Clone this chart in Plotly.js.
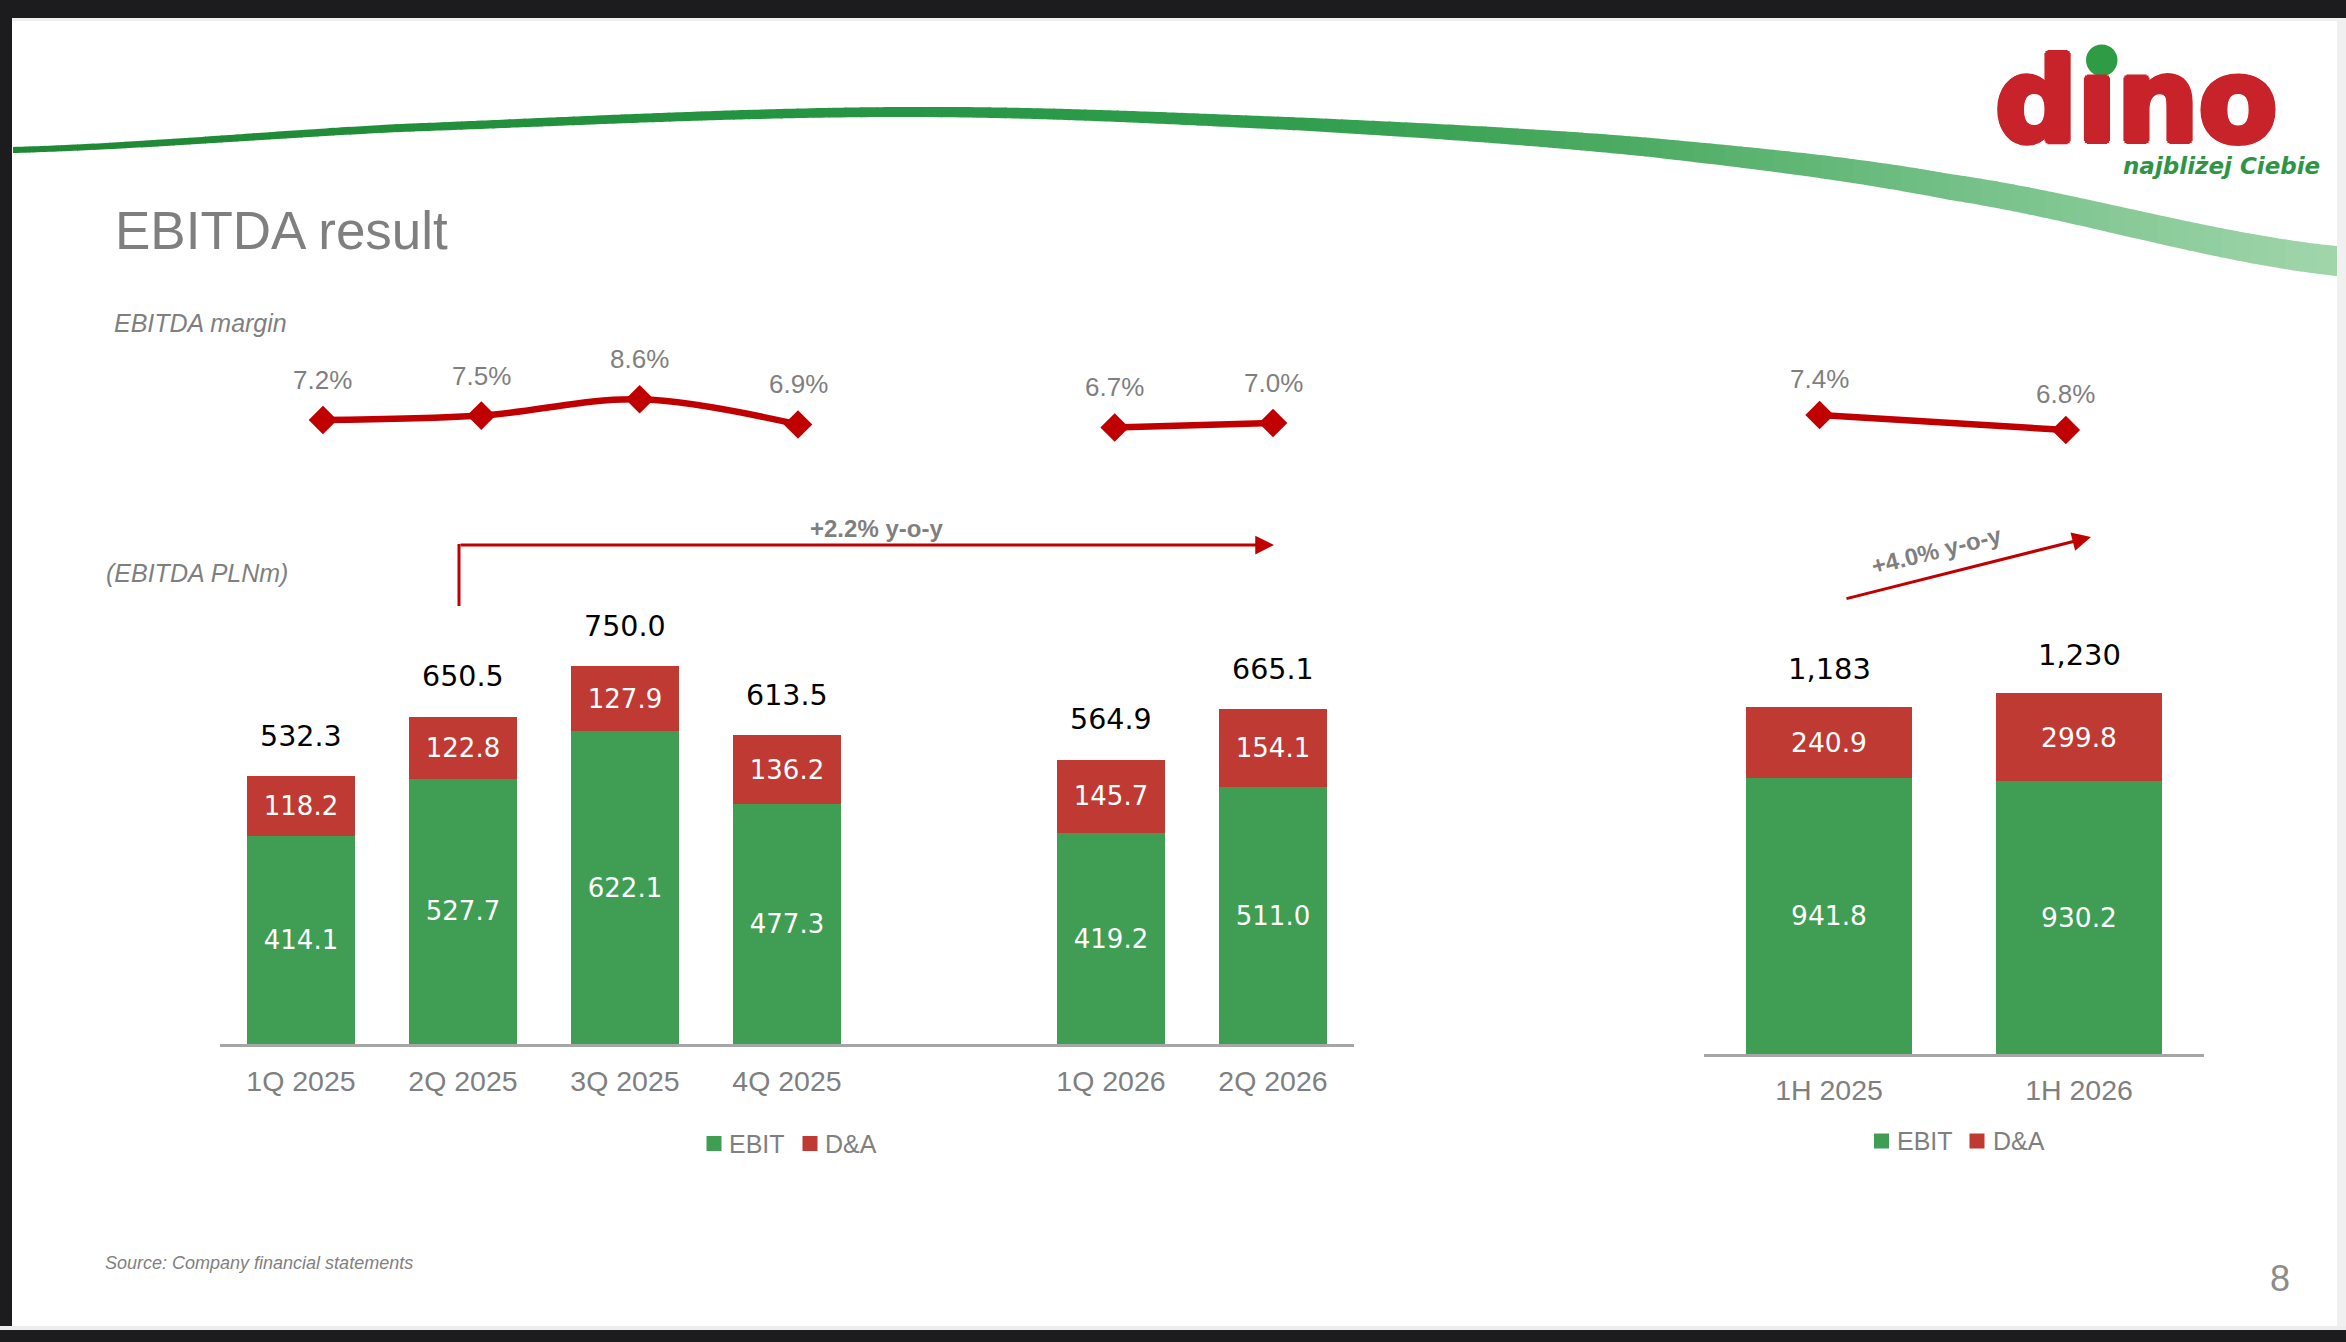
<!DOCTYPE html>
<html><head><meta charset="utf-8">
<script src="https://cdn.plot.ly/plotly-3.0.1.min.js"></script>
<style>html,body{margin:0;padding:0;background:#fff;overflow:hidden}</style>
</head><body><div id="chart" style="width:2346px;height:1342px"></div>
<script>
// ---------------- data ----------------
const quarterLabels = ['1Q 2025','2Q 2025','3Q 2025','4Q 2025','1Q 2026','2Q 2026'];
const quarterEbit = [414.1, 527.7, 622.1, 477.3, 419.2, 511.0];
const quarterDA = [118.2, 122.8, 127.9, 136.2, 145.7, 154.1];
const quarterEbitda = [532.3, 650.5, 750.0, 613.5, 564.9, 665.1];
const quarterMargin = [7.2, 7.5, 8.6, 6.9, 6.7, 7.0];
const halfLabels = ['1H 2025','1H 2026'];
const halfEbit = [941.8, 930.2];
const halfDA = [240.9, 299.8];
const halfEbitda = [1183, 1230];
const halfMargin = [7.4, 6.8];
const seriesNames = ['EBIT','D&A'];
const yoyLabels = ['+2.2% y-o-y','+4.0% y-o-y'];
const titleText = 'EBITDA result';
const marginTitle = 'EBITDA margin';
const unitTitle = '(EBITDA PLNm)';
const sourceText = 'Source: Company financial statements';
const pageNumber = '8';
const logoText = 'd\u0131no';
const logoTagline = 'najbliżej Ciebie';

// ---------------- helpers ----------------
const W = 2346, H = 1342;
const px = x => x / W;
const py = y => 1 - y / H;
const GAP = ' ';
const gapIdx = 4;
const withGap = (arr, filler) => [...arr.slice(0, gapIdx), filler, ...arr.slice(gapIdx)];
const qX = withGap(quarterLabels, GAP);
const esc = s => s.replace(/&/g, '&amp;');

const GREEN = '#409D54', RED = '#BE3A33', LINE_RED = '#C00000', GREY = '#7F7F7F';
const SANS = 'Liberation Sans, Arial, sans-serif';
const VAL = 'DejaVu Sans, sans-serif';

// ---------------- traces ----------------
const barCommon = {type: 'bar', textposition: 'inside', insidetextanchor: 'middle', textangle: 0,
  constraintext: 'none', cliponaxis: false, hoverinfo: 'skip', marker: {line: {width: 0}}};
const traces = [
  Object.assign({}, barCommon, {name: seriesNames[0], x: qX, y: withGap(quarterEbit, null), xaxis: 'x', yaxis: 'y',
    marker: {color: GREEN, line: {width: 0}}, texttemplate: '%{y:.1f}', textfont: {family: VAL, size: 26, color: '#fff'}}),
  Object.assign({}, barCommon, {name: seriesNames[1], x: qX, y: withGap(quarterDA, null), xaxis: 'x', yaxis: 'y',
    marker: {color: RED, line: {width: 0}}, texttemplate: '%{y:.1f}', textfont: {family: VAL, size: 26, color: '#fff'}}),
  Object.assign({}, barCommon, {name: seriesNames[0], x: halfLabels, y: halfEbit, xaxis: 'x2', yaxis: 'y2',
    marker: {color: GREEN, line: {width: 0}}, texttemplate: '%{y:.1f}', textfont: {family: VAL, size: 26.5, color: '#fff'}}),
  Object.assign({}, barCommon, {name: seriesNames[1], x: halfLabels, y: halfDA, xaxis: 'x2', yaxis: 'y2',
    marker: {color: RED, line: {width: 0}}, texttemplate: '%{y:.1f}', textfont: {family: VAL, size: 26.5, color: '#fff'}}),
  {type: 'scatter', mode: 'lines+markers', x: qX, y: withGap(quarterMargin, null), xaxis: 'x3', yaxis: 'y3',
    connectgaps: false, line: {color: LINE_RED, width: 6.5, shape: 'spline', smoothing: 1},
    marker: {symbol: 'diamond', size: 22, color: LINE_RED}, hoverinfo: 'skip', cliponaxis: false},
  {type: 'scatter', mode: 'lines+markers', x: halfLabels, y: halfMargin, xaxis: 'x4', yaxis: 'y4',
    line: {color: LINE_RED, width: 6.5}, marker: {symbol: 'diamond', size: 22, color: LINE_RED},
    hoverinfo: 'skip', cliponaxis: false}
];

// ---------------- annotations ----------------
const ann = [];
const addText = (text, x, y, size, opts) => ann.push(Object.assign({
  text, x: px(x), y: py(y), xref: 'paper', yref: 'paper', showarrow: false,
  xanchor: 'left', yanchor: 'middle', font: {family: SANS, size, color: GREY}}, opts || {}));

addText(titleText, 113, 231, 53);
addText(marginTitle, 112, 323, 25, {font: {family: SANS, size: 25, color: GREY, style: 'italic'}});
addText(unitTitle, 104, 573, 25, {font: {family: SANS, size: 25, color: GREY, style: 'italic'}});
addText(sourceText, 103, 1263, 18, {font: {family: SANS, size: 18, color: GREY, style: 'italic'}});
addText(pageNumber, 2280, 1278, 36, {xanchor: 'center', font: {family: SANS, size: 36, color: '#8C8C8C'}});

// totals above bars
quarterLabels.forEach((c, i) => ann.push({text: quarterEbitda[i].toFixed(1), x: c, y: quarterEbitda[i],
  xref: 'x', yref: 'y', showarrow: false, yanchor: 'middle', yshift: 40,
  font: {family: VAL, size: 28.5, color: '#000'}}));
halfLabels.forEach((c, i) => ann.push({text: halfEbitda[i].toLocaleString('en-US'), x: c, y: halfEbitda[i],
  xref: 'x2', yref: 'y2', showarrow: false, yanchor: 'middle', yshift: 38,
  font: {family: VAL, size: 29, color: '#000'}}));

// margin labels
quarterLabels.forEach((c, i) => ann.push({text: quarterMargin[i].toFixed(1) + '%', x: c, y: quarterMargin[i],
  xref: 'x3', yref: 'y3', showarrow: false, yanchor: 'middle', yshift: 40,
  font: {family: SANS, size: 26, color: GREY}}));
halfLabels.forEach((c, i) => ann.push({text: halfMargin[i].toFixed(1) + '%', x: c, y: halfMargin[i],
  xref: 'x4', yref: 'y4', showarrow: false, yanchor: 'middle', yshift: 36,
  font: {family: SANS, size: 26, color: GREY}}));

// y-o-y arrows
ann.push({x: px(1274), y: py(545), xref: 'paper', yref: 'paper', ax: -815, ay: 0, axref: 'pixel', ayref: 'pixel',
  showarrow: true, arrowhead: 2, arrowsize: 1.25, arrowwidth: 3, arrowcolor: LINE_RED, text: ''});
ann.push({x: px(2091), y: py(537), xref: 'paper', yref: 'paper', ax: -246, ay: 62, axref: 'pixel', ayref: 'pixel',
  showarrow: true, arrowhead: 2, arrowsize: 1.25, arrowwidth: 3, arrowcolor: LINE_RED, text: ''});
addText(yoyLabels[0], 877, 528, 24, {xanchor: 'center', font: {family: SANS, size: 24, color: GREY, weight: 'bold'}});
addText(yoyLabels[1], 1936, 551, 24, {xanchor: 'center', textangle: -14, font: {family: SANS, size: 24, color: GREY, weight: 'bold'}});

// legends (text)
addText(esc(seriesNames[0]), 727, 1143.5, 25);
addText(esc(seriesNames[1]), 823, 1143.5, 25);
addText(esc(seriesNames[0]), 1895, 1141, 25);
addText(esc(seriesNames[1]), 1991, 1141, 25);

// logo
const RED_LOGO = '#C8232B';
const sh = [];
[[3,0],[-3,0],[0,3],[0,-3],[2,2],[-2,-2],[2,-2],[-2,2]].forEach(d => sh.push(d[0] + 'px ' + d[1] + 'px 0 ' + RED_LOGO));
ann.push({text: logoText, x: px(2136), y: py(101), xref: 'paper', yref: 'paper', showarrow: false,
  xanchor: 'center', yanchor: 'middle',
  font: {family: 'DejaVu Sans, sans-serif', size: 115, color: RED_LOGO, weight: 'bold', shadow: sh.join(', ')}});
addText(logoTagline, 2121, 166, 23, {font: {family: 'DejaVu Sans, sans-serif', size: 23, color: '#2E9446', weight: 'bold', style: 'italic'}});

// ---------------- shapes ----------------
const shapes = [];
const rect = (x0, y0, x1, y1, color) => shapes.push({type: 'rect', xref: 'paper', yref: 'paper',
  x0: px(x0), x1: px(x1), y0: py(y1), y1: py(y0), fillcolor: color, line: {width: 0}, layer: 'above'});
// frame
rect(0, 0, W, 18, '#1C1C1E');
rect(0, 18, W, 21, '#EFEFEF');
rect(0, 0, 12, H, '#1C1C1E');
rect(2337, 18, W, 1330, '#F0F0F0');
rect(0, 1326, W, 1330, '#EDEDED');
rect(0, 1330, W, H, '#1C1C1E');
// legend squares
rect(706.5, 1136, 721.5, 1151, GREEN);
rect(802.5, 1136, 817.5, 1151, RED);
rect(1874, 1133.5, 1889, 1148.5, GREEN);
rect(1969.5, 1133.5, 1984.5, 1148.5, RED);
// left y-o-y bracket vertical part
shapes.push({type: 'line', xref: 'paper', yref: 'paper', x0: px(459), x1: px(459), y0: py(606), y1: py(544),
  line: {color: LINE_RED, width: 3}});
// logo dot
shapes.push({type: 'circle', xref: 'paper', yref: 'paper', x0: px(2086), x1: px(2117.5), y0: py(76), y1: py(44.5),
  fillcolor: '#2E9B45', line: {width: 0}});

// decorative green swoosh (banner graphic)
const knX = [13, 400, 898, 1300, 1646, 1950, 2346];
const knY = [150, 128, 112, 124, 147, 187, 262];
const knT = [6, 8, 10, 13, 19, 26, 30];
const knC = [[31,136,52],[33,142,58],[38,150,68],[48,158,78],[78,172,100],[115,192,135],[162,214,172]];
function interp(arr, x) {
  let i = 0;
  while (i < knX.length - 2 && x > knX[i + 1]) i++;
  const t = (x - knX[i]) / (knX[i + 1] - knX[i]);
  const p0 = arr[Math.max(i - 1, 0)], p1 = arr[i], p2 = arr[i + 1], p3 = arr[Math.min(i + 2, arr.length - 1)];
  const t2 = t * t, t3 = t2 * t;
  return 0.5 * ((2 * p1) + (-p0 + p2) * t + (2 * p0 - 5 * p1 + 4 * p2 - p3) * t2 + (-p0 + 3 * p1 - 3 * p2 + p3) * t3);
}
function interpC(x) {
  let i = 0;
  while (i < knX.length - 2 && x > knX[i + 1]) i++;
  const t = Math.min(Math.max((x - knX[i]) / (knX[i + 1] - knX[i]), 0), 1);
  const c = knC[i].map((v, k) => Math.round(v + (knC[i + 1][k] - v) * t));
  return 'rgb(' + c.join(',') + ')';
}
const step = 16;
for (let x = 13; x < W; x += step) {
  const xa = x, xb = Math.min(x + step + 1, W);
  const pts = [];
  const nSub = 4;
  for (let k = 0; k <= nSub; k++) {
    const xx = xa + (xb - xa) * k / nSub;
    pts.push([xx, interp(knY, xx) - interp(knT, xx) / 2]);
  }
  for (let k = nSub; k >= 0; k--) {
    const xx = xa + (xb - xa) * k / nSub;
    pts.push([xx, interp(knY, xx) + interp(knT, xx) / 2]);
  }
  const path = 'M' + pts.map(p => px(p[0]).toFixed(6) + ',' + py(p[1]).toFixed(6)).join('L') + 'Z';
  shapes.push({type: 'path', xref: 'paper', yref: 'paper', path, fillcolor: interpC(x + step / 2),
    line: {width: 0}, layer: 'below'});
}

// ---------------- layout ----------------
const tickFont = {family: SANS, size: 28.5, color: GREY};
const layout = {
  width: W, height: H, autosize: false, margin: {l: 0, r: 0, t: 0, b: 0, pad: 0},
  paper_bgcolor: '#FFFFFF', plot_bgcolor: 'rgba(0,0,0,0)', showlegend: false,
  barmode: 'stack', bargap: 0.333,
  xaxis: {domain: [px(220), px(1354)], anchor: 'y', type: 'category', categoryorder: 'array', categoryarray: qX,
    range: [-0.5, 6.5], showline: true, linecolor: '#A6A6A6', linewidth: 2.5, ticks: '', showgrid: false,
    zeroline: false, tickfont: tickFont, ticklabelstandoff: 10, fixedrange: true},
  yaxis: {domain: [py(1044.4), py(641.3)], anchor: 'x', range: [0, 800], visible: false, fixedrange: true},
  xaxis2: {domain: [px(1704), px(2204)], anchor: 'y2', type: 'category', categoryorder: 'array', categoryarray: halfLabels,
    range: [-0.5, 1.5], showline: true, linecolor: '#A6A6A6', linewidth: 2.5, ticks: '', showgrid: false,
    zeroline: false, tickfont: tickFont, ticklabelstandoff: 9, fixedrange: true},
  yaxis2: {domain: [py(1054), py(643.2)], anchor: 'x2', range: [0, 1400], visible: false, fixedrange: true},
  xaxis3: {domain: [px(243.8), px(1352.2)], anchor: 'y3', type: 'category', categoryorder: 'array', categoryarray: qX,
    range: [-0.5, 6.5], visible: false, fixedrange: true},
  yaxis3: {domain: [py(437.8), py(393.4)], anchor: 'x3', range: [6, 9], visible: false, fixedrange: true},
  xaxis4: {domain: [px(1696.5), px(2188.9)], anchor: 'y4', type: 'category', categoryorder: 'array', categoryarray: halfLabels,
    range: [-0.5, 1.5], visible: false, fixedrange: true},
  yaxis4: {domain: [py(450), py(375)], anchor: 'x4', range: [6, 9], visible: false, fixedrange: true},
  annotations: ann,
  shapes: shapes
};

Plotly.newPlot('chart', traces, layout, {staticPlot: true, displayModeBar: false, responsive: false});
</script></body></html>
